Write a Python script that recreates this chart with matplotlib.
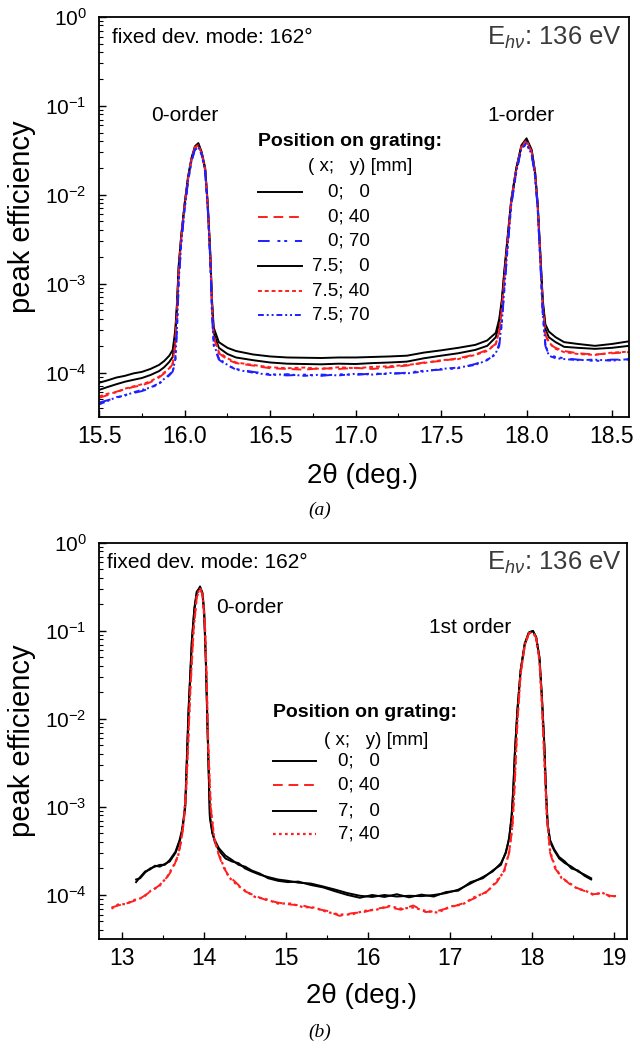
import matplotlib.pyplot as plt
from matplotlib.ticker import MultipleLocator, LogLocator, FormatStrFormatter

plt.rcParams['font.family'] = ['Liberation Sans', 'DejaVu Sans']
plt.rcParams['mathtext.fontset'] = 'custom'
plt.rcParams['mathtext.rm'] = 'Liberation Sans'
plt.rcParams['mathtext.it'] = 'Liberation Sans:italic'
plt.rcParams['mathtext.bf'] = 'Liberation Sans:bold'

# ---- panel (a): 2theta grid and peak efficiency per grating position ----
xa = [15.50, 15.55, 15.60, 15.65, 15.70, 15.75, 15.80, 15.85, 15.88, 15.91,
      15.93, 15.945, 15.955, 15.965, 15.98, 16.00, 16.02, 16.04, 16.06, 16.08,
      16.10, 16.12, 16.135, 16.15, 16.16, 16.17, 16.20, 16.25, 16.30, 16.40,
      16.50, 16.60, 16.70, 16.80, 16.90, 17.00, 17.10, 17.20, 17.30, 17.40,
      17.50, 17.60, 17.70, 17.77, 17.82, 17.84, 17.855, 17.87, 17.89, 17.91,
      17.94, 17.97, 18.00, 18.03, 18.05, 18.065, 18.08, 18.095, 18.11, 18.13,
      18.17, 18.22, 18.30, 18.40, 18.50, 18.60]

a_0_0 = [7.7e-5, 8.2e-5, 8.8e-5, 9.2e-5, 9.8e-5, 1.02e-4, 1.10e-4, 1.22e-4, 1.35e-4, 1.55e-4,
         1.8e-4, 3.0e-4, 6.0e-4, 1.6e-3, 3.5e-3, 8.0e-3, 1.6e-2, 2.6e-2, 3.5e-2, 3.8e-2,
         3.0e-2, 2.0e-2, 8.0e-3, 2.2e-3, 6.5e-4, 3.2e-4, 2.2e-4, 1.9e-4, 1.75e-4, 1.6e-4,
         1.52e-4, 1.48e-4, 1.47e-4, 1.46e-4, 1.48e-4, 1.48e-4, 1.50e-4, 1.52e-4, 1.55e-4, 1.68e-4,
         1.78e-4, 1.9e-4, 2.05e-4, 2.3e-4, 2.8e-4, 4.0e-4, 6.5e-4, 1.4e-3, 3.5e-3, 8.7e-3,
         2.0e-2, 3.6e-2, 4.3e-2, 3.2e-2, 1.8e-2, 8.0e-3, 2.3e-3, 6.5e-4, 3.5e-4, 2.9e-4,
         2.5e-4, 2.2e-4, 2.1e-4, 2.0e-4, 2.1e-4, 2.25e-4]
a_0_40 = [5.2e-5, 5.6e-5, 6.1e-5, 6.5e-5, 6.9e-5, 7.2e-5, 7.8e-5, 8.8e-5, 9.8e-5, 1.1e-4,
          1.25e-4, 2.0e-4, 4.5e-4, 1.3e-3, 3.2e-3, 7.5e-3, 1.5e-2, 2.5e-2, 3.4e-2, 3.6e-2,
          2.9e-2, 1.9e-2, 7.4e-3, 2.0e-3, 5.5e-4, 2.5e-4, 1.65e-4, 1.4e-4, 1.28e-4, 1.2e-4,
          1.12e-4, 1.1e-4, 1.08e-4, 1.12e-4, 1.1e-4, 1.13e-4, 1.1e-4, 1.15e-4, 1.2e-4, 1.3e-4,
          1.35e-4, 1.45e-4, 1.6e-4, 1.8e-4, 2.1e-4, 2.8e-4, 5.0e-4, 1.1e-3, 3.0e-3, 8.0e-3,
          1.9e-2, 3.4e-2, 4.0e-2, 3.0e-2, 1.7e-2, 7.5e-3, 2.0e-3, 5.5e-4, 2.7e-4, 2.1e-4,
          1.9e-4, 1.75e-4, 1.65e-4, 1.6e-4, 1.65e-4, 1.7e-4]
a_0_70 = [4.6e-5, 4.9e-5, 5.2e-5, 5.6e-5, 5.9e-5, 6.2e-5, 6.7e-5, 7.5e-5, 8.3e-5, 9.3e-5,
          1.03e-4, 1.3e-4, 3.0e-4, 1.0e-3, 2.8e-3, 7.0e-3, 1.4e-2, 2.4e-2, 3.2e-2, 3.4e-2,
          2.8e-2, 1.8e-2, 7.0e-3, 1.8e-3, 4.5e-4, 2.0e-4, 1.4e-4, 1.2e-4, 1.1e-4, 1.02e-4,
          9.6e-5, 9.3e-5, 9.5e-5, 9.2e-5, 9.6e-5, 9.4e-5, 9.8e-5, 9.6e-5, 1.0e-4, 1.05e-4,
          1.08e-4, 1.12e-4, 1.25e-4, 1.4e-4, 1.6e-4, 2.0e-4, 3.5e-4, 8.5e-4, 2.6e-3, 7.5e-3,
          1.8e-2, 3.3e-2, 3.7e-2, 2.8e-2, 1.6e-2, 7.0e-3, 1.8e-3, 4.5e-4, 2.0e-4, 1.6e-4,
          1.5e-4, 1.45e-4, 1.4e-4, 1.35e-4, 1.4e-4, 1.4e-4]
a_75_0 = [6.4e-5, 6.9e-5, 7.4e-5, 7.9e-5, 8.3e-5, 8.7e-5, 9.4e-5, 1.04e-4, 1.15e-4, 1.32e-4,
          1.5e-4, 2.6e-4, 5.5e-4, 1.5e-3, 3.4e-3, 7.8e-3, 1.55e-2, 2.5e-2, 3.4e-2, 3.7e-2,
          2.9e-2, 1.9e-2, 7.5e-3, 2.0e-3, 6.0e-4, 2.8e-4, 1.9e-4, 1.62e-4, 1.48e-4, 1.38e-4,
          1.3e-4, 1.26e-4, 1.25e-4, 1.24e-4, 1.26e-4, 1.25e-4, 1.28e-4, 1.3e-4, 1.33e-4, 1.45e-4,
          1.55e-4, 1.65e-4, 1.8e-4, 2.0e-4, 2.5e-4, 3.6e-4, 6.0e-4, 1.3e-3, 3.3e-3, 8.3e-3,
          1.95e-2, 3.5e-2, 4.1e-2, 3.1e-2, 1.75e-2, 7.7e-3, 2.2e-3, 6.0e-4, 3.1e-4, 2.5e-4,
          2.2e-4, 1.95e-4, 1.9e-4, 1.85e-4, 1.9e-4, 2.0e-4]
a_75_40 = [5.4e-5, 5.8e-5, 6.0e-5, 6.6e-5, 7.0e-5, 7.4e-5, 8.0e-5, 9.0e-5, 1.0e-4, 1.12e-4,
           1.28e-4, 2.2e-4, 4.8e-4, 1.35e-3, 3.3e-3, 7.6e-3, 1.5e-2, 2.5e-2, 3.4e-2, 3.6e-2,
           2.9e-2, 1.9e-2, 7.5e-3, 2.0e-3, 5.6e-4, 2.6e-4, 1.7e-4, 1.45e-4, 1.3e-4, 1.22e-4,
           1.15e-4, 1.12e-4, 1.14e-4, 1.1e-4, 1.15e-4, 1.12e-4, 1.16e-4, 1.18e-4, 1.22e-4, 1.28e-4,
           1.38e-4, 1.42e-4, 1.58e-4, 1.75e-4, 2.1e-4, 2.9e-4, 5.2e-4, 1.15e-3, 3.1e-3, 8.2e-3,
           1.9e-2, 3.5e-2, 4.1e-2, 3.0e-2, 1.7e-2, 7.6e-3, 2.1e-3, 5.6e-4, 2.8e-4, 2.2e-4,
           1.85e-4, 1.7e-4, 1.62e-4, 1.58e-4, 1.68e-4, 1.72e-4]
a_75_70 = [4.4e-5, 4.8e-5, 5.3e-5, 5.5e-5, 6.0e-5, 6.4e-5, 6.8e-5, 7.6e-5, 8.5e-5, 9.5e-5,
           1.05e-4, 1.4e-4, 3.2e-4, 1.05e-3, 2.9e-3, 7.1e-3, 1.45e-2, 2.4e-2, 3.2e-2, 3.4e-2,
           2.8e-2, 1.8e-2, 7.1e-3, 1.8e-3, 4.6e-4, 2.1e-4, 1.45e-4, 1.22e-4, 1.08e-4, 1.0e-4,
           9.4e-5, 9.6e-5, 9.2e-5, 9.5e-5, 9.3e-5, 9.7e-5, 9.5e-5, 9.9e-5, 9.8e-5, 1.03e-4,
           1.1e-4, 1.14e-4, 1.22e-4, 1.38e-4, 1.65e-4, 2.1e-4, 3.6e-4, 8.8e-4, 2.7e-3, 7.6e-3,
           1.8e-2, 3.3e-2, 3.8e-2, 2.8e-2, 1.6e-2, 7.1e-3, 1.9e-3, 4.6e-4, 2.1e-4, 1.55e-4,
           1.45e-4, 1.42e-4, 1.38e-4, 1.4e-4, 1.36e-4, 1.42e-4]

# ---- panel (b) ----
xb_k = [13.17, 13.22, 13.28, 13.34, 13.40, 13.46, 13.52, 13.58, 13.65, 13.70,
        13.73, 13.75, 13.77, 13.79, 13.81, 13.85, 13.88, 13.91, 13.95, 13.98,
        14.00, 14.02, 14.045, 14.07, 14.10, 14.13, 14.18, 14.26, 14.34, 14.42,
        14.50, 14.58, 14.68, 14.78, 14.90, 15.02, 15.15, 15.30, 15.45, 15.60,
        15.75, 15.90, 16.05, 16.20, 16.35, 16.50, 16.65, 16.80, 16.95, 17.10,
        17.25, 17.40, 17.52, 17.62, 17.68, 17.72, 17.75, 17.77, 17.79, 17.82,
        17.86, 17.91, 17.96, 18.01, 18.05, 18.09, 18.12, 18.15, 18.17, 18.19,
        18.22, 18.27, 18.33, 18.40, 18.48, 18.56, 18.64, 18.72]
b_0_0 = [1.4e-4, 1.6e-4, 1.85e-4, 1.95e-4, 2.15e-4, 2.1e-4, 2.25e-4, 2.4e-4, 3.0e-4, 4.0e-4,
         5.2e-4, 7.0e-4, 1.0e-3, 3.5e-3, 1.2e-2, 7.5e-2, 0.17, 0.27, 0.32, 0.27,
         0.17, 5.0e-2, 6.0e-3, 8.0e-4, 5.2e-4, 4.0e-4, 3.2e-4, 2.6e-4, 2.4e-4, 2.3e-4,
         2.0e-4, 1.85e-4, 1.7e-4, 1.6e-4, 1.5e-4, 1.45e-4, 1.38e-4, 1.35e-4, 1.25e-4, 1.15e-4,
         1.05e-4, 9.8e-5, 9.5e-5, 1.0e-4, 9.6e-5, 9.8e-5, 9.7e-5, 1.0e-4, 1.05e-4, 1.15e-4,
         1.35e-4, 1.6e-4, 1.85e-4, 2.3e-4, 3.0e-4, 4.5e-4, 7.5e-4, 1.5e-3, 4.0e-3, 1.2e-2,
         3.5e-2, 7.0e-2, 9.5e-2, 0.1, 8.5e-2, 5.0e-2, 1.8e-2, 5.0e-3, 1.5e-3, 6.5e-4,
         4.0e-4, 3.2e-4, 2.6e-4, 2.3e-4, 2.1e-4, 1.85e-4, 1.7e-4, 1.55e-4]
b_7_0 = [1.5e-4, 1.55e-4, 1.8e-4, 2.0e-4, 2.1e-4, 2.2e-4, 2.2e-4, 2.5e-4, 3.1e-4, 4.2e-4,
         5.5e-4, 7.5e-4, 1.1e-3, 3.8e-3, 1.3e-2, 7.8e-2, 0.18, 0.28, 0.31, 0.26,
         0.16, 4.6e-2, 5.5e-3, 7.5e-4, 5.0e-4, 4.2e-4, 3.4e-4, 2.8e-4, 2.5e-4, 2.2e-4,
         2.1e-4, 1.9e-4, 1.75e-4, 1.55e-4, 1.45e-4, 1.4e-4, 1.42e-4, 1.3e-4, 1.22e-4, 1.1e-4,
         1.0e-4, 9.3e-5, 1.0e-4, 9.5e-5, 1.02e-4, 9.4e-5, 1.01e-4, 9.6e-5, 1.08e-4, 1.12e-4,
         1.4e-4, 1.55e-4, 1.9e-4, 2.2e-4, 3.1e-4, 4.3e-4, 8.0e-4, 1.6e-3, 4.2e-3, 1.25e-2,
         3.6e-2, 7.2e-2, 9.6e-2, 0.1, 8.4e-2, 4.9e-2, 1.7e-2, 4.8e-3, 1.4e-3, 6.2e-4,
         4.2e-4, 3.3e-4, 2.7e-4, 2.4e-4, 2.0e-4, 1.9e-4, 1.65e-4, 1.5e-4]

xb_r = [12.87, 12.95, 13.05, 13.15, 13.25, 13.35, 13.45, 13.55, 13.62, 13.68,
        13.72, 13.75, 13.78, 13.80, 13.83, 13.87, 13.91, 13.95, 13.98, 14.01,
        14.03, 14.05, 14.08, 14.12, 14.17, 14.23, 14.30, 14.40, 14.50, 14.62,
        14.75, 14.90, 15.05, 15.20, 15.35, 15.50, 15.65, 15.80, 15.95, 16.10,
        16.25, 16.40, 16.55, 16.70, 16.85, 17.00, 17.15, 17.30, 17.45, 17.57,
        17.66, 17.72, 17.76, 17.79, 17.82, 17.86, 17.91, 17.96, 18.01, 18.05,
        18.09, 18.12, 18.15, 18.18, 18.22, 18.28, 18.36, 18.45, 18.55, 18.65,
        18.75, 18.85, 18.95, 19.05]
b_0_40 = [7.2e-5, 7.6e-5, 8.0e-5, 8.6e-5, 9.5e-5, 1.1e-4, 1.28e-4, 1.6e-4, 2.0e-4, 2.8e-4,
          4.0e-4, 6.5e-4, 1.5e-3, 4.0e-3, 2.0e-2, 0.1, 0.24, 0.3, 0.26, 0.12,
          3.0e-2, 5.0e-3, 1.0e-3, 4.5e-4, 3.0e-4, 2.1e-4, 1.65e-4, 1.35e-4, 1.1e-4, 9.8e-5,
          8.8e-5, 8.2e-5, 7.8e-5, 7.6e-5, 7.0e-5, 6.6e-5, 5.8e-5, 6.2e-5, 6.4e-5, 7.0e-5,
          7.3e-5, 6.8e-5, 7.6e-5, 6.4e-5, 6.6e-5, 7.2e-5, 8.0e-5, 9.2e-5, 1.1e-4, 1.4e-4,
          1.9e-4, 3.0e-4, 6.0e-4, 2.0e-3, 9.0e-3, 3.2e-2, 6.8e-2, 9.3e-2, 9.8e-2, 8.3e-2,
          4.6e-2, 1.5e-2, 3.5e-3, 8.0e-4, 3.0e-4, 2.0e-4, 1.6e-4, 1.35e-4, 1.2e-4, 1.1e-4,
          1.02e-4, 1.05e-4, 9.8e-5, 9.6e-5]
b_7_40 = [7.0e-5, 7.8e-5, 7.9e-5, 8.8e-5, 9.3e-5, 1.12e-4, 1.25e-4, 1.62e-4, 2.1e-4, 2.7e-4,
          4.2e-4, 6.8e-4, 1.6e-3, 4.2e-3, 2.1e-2, 0.1, 0.25, 0.31, 0.26, 0.11,
          2.8e-2, 4.8e-3, 1.0e-3, 4.6e-4, 3.1e-4, 2.2e-4, 1.6e-4, 1.3e-4, 1.12e-4, 9.5e-5,
          9.0e-5, 8.0e-5, 8.0e-5, 7.3e-5, 7.2e-5, 6.4e-5, 6.0e-5, 6.0e-5, 6.6e-5, 6.8e-5,
          7.5e-5, 7.0e-5, 7.2e-5, 6.6e-5, 6.3e-5, 7.4e-5, 7.8e-5, 9.5e-5, 1.08e-4, 1.45e-4,
          1.85e-4, 3.1e-4, 6.2e-4, 2.1e-3, 9.2e-3, 3.3e-2, 6.9e-2, 9.4e-2, 9.7e-2, 8.2e-2,
          4.5e-2, 1.45e-2, 3.4e-3, 7.8e-4, 3.1e-4, 2.1e-4, 1.55e-4, 1.38e-4, 1.18e-4, 1.12e-4,
          1.0e-4, 1.07e-4, 9.6e-5, 9.8e-5]

labels_a = ['0;   0', '0; 40', '0; 70', '7.5;   0', '7.5; 40', '7.5; 70']
labels_b = ['0;   0', '0; 40', '7;   0', '7; 40']

RED = '#ff1f1f'
BLUE = '#1f1fff'
st_k = dict(color='black', lw=1.4, ls='-')
st_rd = dict(color=RED, lw=1.4, ls=(0, (5, 3)))
st_bdd = dict(color=BLUE, lw=1.4, ls=(0, (6, 4, 1.5, 2, 1.5, 4)))
st_rdot = dict(color=RED, lw=1.4, ls=(0, (2, 1.5)))
st_bdd2 = dict(color=BLUE, lw=1.4, ls=(0, (3, 1.5, 1, 1.5, 1, 1.5)))
st_rdot_b = dict(color=RED, lw=1.6, ls=(0, (1.2, 1.5)))

fig = plt.figure(figsize=(6.4, 10.48), dpi=100)
ax1 = fig.add_axes([0.155, 0.602, 0.828, 0.382])
ax2 = fig.add_axes([0.155, 0.104, 0.825, 0.378])


def style_axes(ax, xlim, major, minor, fmt, xlab_y):
    ax.set_yscale('log')
    ax.set_ylim(10 ** -4.5, 1)
    ax.set_xlim(*xlim)
    ax.xaxis.set_major_locator(MultipleLocator(major))
    ax.xaxis.set_minor_locator(MultipleLocator(minor))
    ax.xaxis.set_major_formatter(FormatStrFormatter(fmt))
    ax.yaxis.set_major_locator(LogLocator(base=10, numticks=10))
    ax.yaxis.set_minor_locator(LogLocator(base=10, subs=range(2, 10), numticks=20))
    ax.tick_params(which='both', direction='in', top=False, right=False)
    ax.tick_params(which='major', length=5, width=1.0)
    ax.tick_params(which='minor', length=3, width=0.8)
    ax.tick_params(axis='x', labelsize=16.5, pad=6)
    ax.tick_params(axis='y', labelsize=15, pad=9)
    for sp in ax.spines.values():
        sp.set_linewidth(1.3)
    ax.set_ylabel('peak efficiency', fontsize=21)
    ax.yaxis.set_label_coords(-0.12, 0.5)
    ax.set_xlabel('2θ (deg.)', fontsize=20)
    ax.xaxis.set_label_coords(0.496, xlab_y)


def draw_legend(ax, x0, x1, xr, y_title, x_sub, y_sub, rows, labels, styles):
    ax.text(x0, y_title, 'Position on grating:', transform=ax.transAxes,
            fontsize=14, fontweight='bold', va='center')
    ax.text(x_sub, y_sub, '( x;   y) [mm]', transform=ax.transAxes,
            fontsize=13.5, va='center')
    for y, lab, st in zip(rows, labels, styles):
        ax.plot([x0, x1], [y, y], transform=ax.transAxes, **st)
        ax.text(xr, y, lab, transform=ax.transAxes, fontsize=13.5,
                ha='right', va='center')


# panel (a)
ax1.plot(xa, a_0_0, **st_k)
ax1.plot(xa, a_75_0, **st_k)
ax1.plot(xa, a_0_40, **st_rd)
ax1.plot(xa, a_75_40, **st_rdot)
ax1.plot(xa, a_0_70, **st_bdd)
ax1.plot(xa, a_75_70, **st_bdd2)
style_axes(ax1, (15.5, 18.6), 0.5, 0.25, '%.1f', -0.115)

ax1.text(0.025, 0.948, 'fixed dev. mode: 162°', transform=ax1.transAxes,
         fontsize=15, va='center')
ax1.text(0.987, 0.948, r'E$_{h\nu}$: 136 eV', transform=ax1.transAxes,
         fontsize=18.5, va='center', ha='right', color='#3a3a3a')
ax1.text(16.0, 0.078, '0-order', fontsize=15, ha='center', va='center')
ax1.text(17.97, 0.078, '1-order', fontsize=15, ha='center', va='center')
draw_legend(ax1, 0.30, 0.383, 0.51, 0.6875, 0.394, 0.625,
            [0.5625, 0.50, 0.44, 0.3775, 0.315, 0.255], labels_a,
            [st_k, st_rd, st_bdd, st_k, st_rdot, st_bdd2])

# panel (b)
ax2.plot(xb_k, b_0_0, **st_k)
ax2.plot(xb_k, b_7_0, **st_k)
ax2.plot(xb_r, b_0_40, **st_rd)
ax2.plot(xb_r, b_7_40, **st_rdot_b)
style_axes(ax2, (12.72, 19.16), 1, 0.5, '%d', -0.111)

ax2.text(0.015, 0.95, 'fixed dev. mode: 162°', transform=ax2.transAxes,
         fontsize=15, va='center')
ax2.text(0.99, 0.95, r'E$_{h\nu}$: 136 eV', transform=ax2.transAxes,
         fontsize=18.5, va='center', ha='right', color='#3a3a3a')
ax2.text(14.15, 0.186, '0-order', fontsize=15, ha='left', va='center')
ax2.text(17.24, 0.11, '1st order', fontsize=15, ha='center', va='center')
draw_legend(ax2, 0.33, 0.411, 0.532, 0.571, 0.426, 0.50,
            [0.449, 0.389, 0.323, 0.265], labels_b,
            [st_k, st_rd, st_k, st_rdot_b])

fig.text(0.5, 1 - 510 / 1048, '(a)', ha='center', va='center', fontsize=14,
         family='Liberation Serif', style='italic')
fig.text(0.5, 1 - 1032 / 1048, '(b)', ha='center', va='center', fontsize=14,
         family='Liberation Serif', style='italic')

fig.savefig('out.png', dpi=100)
